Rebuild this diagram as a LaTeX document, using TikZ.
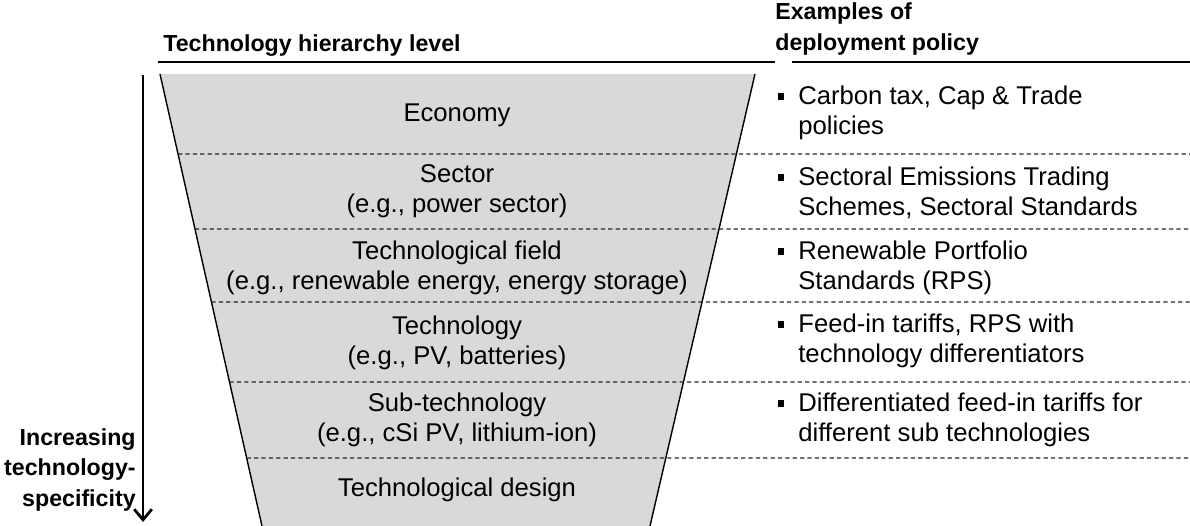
\documentclass[tikz,border=0pt]{standalone}
\usepackage{fontspec}
\setmainfont{Liberation Sans}
\usetikzlibrary{arrows.meta,calc,positioning}
\definecolor{funnelgray}{RGB}{217,217,217}
\newcommand{\sqbullet}{\llap{\rule[0.2em]{3.8pt}{3.8pt}\hspace{8pt}}}

\begin{document}
\begin{tikzpicture}[x=0.02cm,y=-0.02cm,>={Straight Barb[length=6pt,width=10pt]},
    font=\fontsize{14.6}{17}\selectfont,
    level node/.style={align=center,inner sep=0pt},
    policy node/.style={align=left,anchor=west,inner sep=0pt},
    head node/.style={align=left,inner sep=0pt,font=\fontsize{13.2}{17.5}\selectfont\bfseries},
    sep line/.style={dash pattern=on 2.4pt off 1.8pt,line width=0.7pt,black!85}]
  \useasboundingbox (0,0) rectangle (1190,526);
  % funnel
  \coordinate (tl) at (160,74);
  \coordinate (tr) at (755,74);
  \coordinate (bl) at (262,526);
  \coordinate (br) at (650,526);
  \fill[funnelgray] (tl) -- (tr) -- (br) -- (bl) -- cycle;
  \draw[line width=0.8pt] (tl) -- (bl);
  \draw[line width=0.8pt] (tr) -- (br);
  % separators
  \foreach \yy in {154,229,302,382,458}
    \draw[sep line] ($(tl)!{(\yy-74)/452}!(bl)$) -- (1190,\yy);
  % headers
  \node[head node,anchor=west] (levelhead) at (163,46) {Technology hierarchy level};
  \node[head node,anchor=west] (policyhead) at (775,29) {Examples of\\deployment policy};
  \draw[line width=0.75pt] (158,62) -- (775,62);
  \draw[line width=0.75pt] (792,62) -- (1190,62);
  % levels
  \node[level node] (economy) at (457,115) {Economy};
  \node[level node] (sector) at (457,191) {Sector\\(e.g., power sector)};
  \node[level node] (field) at (457,268) {Technological field\\(e.g., renewable energy, energy storage)};
  \node[level node] (tech) at (457,343) {Technology\\(e.g., PV, batteries)};
  \node[level node] (subtech) at (457,420) {Sub-technology\\(e.g., cSi PV, lithium-ion)};
  \node[level node] (design) at (457,490) {Technological design};
  % policies
  \node[policy node] (carbon) at (798,113) {\sqbullet Carbon tax, Cap \& Trade\\policies};
  \node[policy node] (ets) at (798,193) {\sqbullet Sectoral Emissions Trading\\Schemes, Sectoral Standards};
  \node[policy node] (rps) at (798,268) {\sqbullet Renewable Portfolio\\Standards (RPS)};
  \node[policy node] (fit) at (798,341) {\sqbullet Feed-in tariffs, RPS with\\technology differentiators};
  \node[policy node] (dfit) at (798,420) {\sqbullet Differentiated feed-in tariffs for\\different sub technologies};
  % specificity arrow
  \coordinate (atop) at (143,75);
  \coordinate (abot) at (143,522);
  \draw[->,line width=1.6pt] (atop) -- (abot);
  \node[head node,align=right,anchor=east] (spec) at (136,470) {Increasing\\technology-\\specificity};
\end{tikzpicture}
\end{document}
